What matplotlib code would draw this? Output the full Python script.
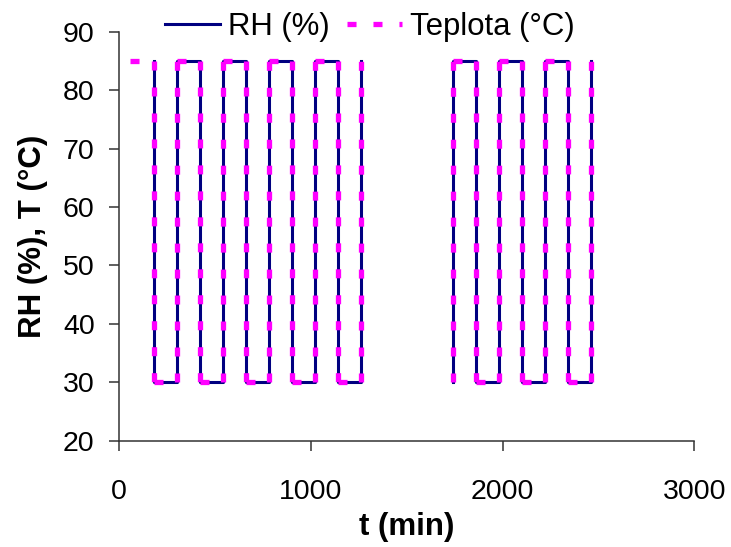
import numpy as np
import matplotlib
matplotlib.use("Agg")
import matplotlib.pyplot as plt
from matplotlib.collections import LineCollection
from matplotlib.lines import Line2D

plt.rcParams['font.family'] = ['Liberation Sans', 'DejaVu Sans']
plt.rcParams['lines.scale_dashes'] = False

nan = np.nan

# Relative humidity cycle (time in minutes, RH in %)
rh_t = [180, 180, 300, 300, 420, 420, 540, 540, 660, 660,
        780, 780, 900, 900, 1020, 1020, 1140, 1140, 1260, 1260,
        nan,
        1740, 1740, 1860, 1860, 1980, 1980, 2100, 2100,
        2220, 2220, 2340, 2340, 2460, 2460]
rh_v = [85, 30, 30, 85, 85, 30, 30, 85, 85, 30,
        30, 85, 85, 30, 30, 85, 85, 30, 30, 85,
        nan,
        30, 85, 85, 30, 30, 85, 85, 30,
        30, 85, 85, 30, 30, 85]

# Temperature cycle (time in minutes, temperature in °C)
temp_t = [55] + rh_t
temp_v = [85] + rh_v

x_ticks = [0, 1000, 2000, 3000]
y_ticks = [20, 30, 40, 50, 60, 70, 80, 90]

RH_COLOR = '#000080'
T_COLOR = '#FF00FF'
T_DASH = (6.5, 12.2)

fig = plt.figure(figsize=(7.31, 5.47), dpi=100)
ax = fig.add_axes([119 / 731, 1 - 440.7 / 547, (694.3 - 119) / 731, (440.7 - 31.7) / 547])

ax.plot(rh_t, rh_v, color=RH_COLOR, linewidth=2.2, zorder=2)

# temperature polyline: each segment restarts its dash pattern at its own start point
pts = list(zip(temp_t, temp_v))
segs = [[a, b] for a, b in zip(pts[:-1], pts[1:])
        if not (np.isnan(a[0]) or np.isnan(b[0]))]
lc = LineCollection(segs, colors=T_COLOR, linewidths=3.8,
                    linestyles=[(0, T_DASH)], zorder=3)
lc.set_capstyle('butt')
ax.add_collection(lc)

ax.set_xlim(0, 3000)
ax.set_ylim(20, 90)
ax.set_xticks(x_ticks)
ax.set_yticks(y_ticks)

for side in ('top', 'right'):
    ax.spines[side].set_visible(False)
for side in ('left', 'bottom'):
    ax.spines[side].set_color('#333333')
    ax.spines[side].set_linewidth(1.1)

ax.tick_params(axis='both', direction='out', length=7.5, width=1.1,
               color='#333333', labelsize=20.5)
ax.tick_params(axis='x', pad=20)
ax.tick_params(axis='y', pad=10)

ax.set_xlabel('t (min)', fontsize=22.5, fontweight='bold', labelpad=5)
ax.set_ylabel('RH (%), T (°C)', fontsize=22.5, fontweight='bold', labelpad=11)

handles = [Line2D([], [], color=RH_COLOR, linewidth=2.2),
           Line2D([], [], color=T_COLOR, linewidth=3.8, dashes=T_DASH,
                  dash_capstyle='butt')]
fig.legend(handles, ['RH (%)', 'Teplota (°C)'], loc='center',
           bbox_to_anchor=(370 / 731, 1 - 27 / 547), ncol=2,
           frameon=False, fontsize=22.4, handlelength=1.77, handletextpad=0.26,
           columnspacing=0.55, borderpad=0, borderaxespad=0)

fig.savefig('out.png', dpi=100)
